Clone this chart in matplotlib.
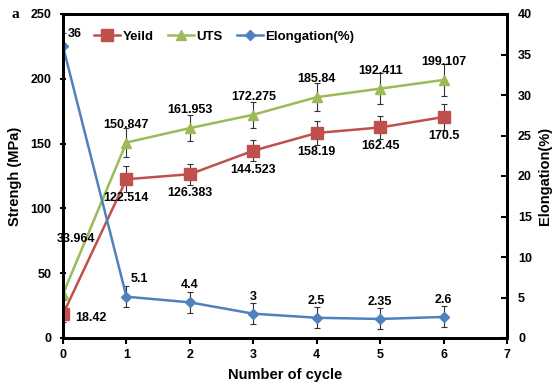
import matplotlib
matplotlib.use("Agg")
import matplotlib.pyplot as plt
from matplotlib.lines import Line2D

plt.rcParams['font.family'] = ['Liberation Sans', 'DejaVu Sans']
plt.rcParams['font.weight'] = 'bold'

cycles = [0, 1, 2, 3, 4, 5, 6]
yield_strength = [18.42, 122.514, 126.383, 144.523, 158.19, 162.45, 170.5]
yield_err = [6, 10, 8, 8, 9, 9, 10]
uts = [33.964, 150.847, 161.953, 172.275, 185.84, 192.411, 199.107]
uts_err = [5, 11, 10, 10, 11, 12, 12]
elongation = [36, 5.1, 4.4, 3, 2.5, 2.35, 2.6]
elong_err = [1.6, 1.3, 1.3, 1.3, 1.3, 1.3, 1.3]
yield_labels = ["18.42", "122.514", "126.383", "144.523", "158.19", "162.45", "170.5"]
uts_labels = ["33.964", "150.847", "161.953", "172.275", "185.84", "192.411", "199.107"]
elong_labels = ["36", "5.1", "4.4", "3", "2.5", "2.35", "2.6"]
series_names = ['Yeild', 'UTS', 'Elongation(%)']

RED = '#C0504D'
GREEN = '#9BBB59'
BLUE = '#4F81BD'
ERR = '#333333'

W, H = 553, 385
fig = plt.figure(figsize=(W / 100, H / 100), dpi=100)
L, R, T, B = 63, 507, 14, 338
ax = fig.add_axes([L / W, (H - B) / H, (R - L) / W, (B - T) / H])
ax2 = ax.twinx()

eb_kw = dict(ecolor=ERR, elinewidth=0.8, capsize=2.2, capthick=0.8)
styles = [
    dict(color=RED, marker='s', ms=8, mec=RED),
    dict(color=GREEN, marker='^', ms=7.5, mec=GREEN),
    dict(color=BLUE, marker='D', ms=5.5, mec=BLUE),
]

ax.errorbar(cycles, yield_strength, yerr=yield_err, lw=1.8, **styles[0], **eb_kw)
ax.errorbar(cycles, uts, yerr=uts_err, lw=1.8, **styles[1], **eb_kw)
ax2.errorbar(cycles, elongation, yerr=elong_err, lw=1.8, **styles[2], **eb_kw)

ax.set_xlim(0, 7)
ax.set_ylim(0, 250)
ax2.set_ylim(0, 40)
ax.set_xticks(range(0, 8))
ax.set_yticks(range(0, 251, 50))
ax2.set_yticks(range(0, 41, 5))

for a in (ax, ax2):
    for s in a.spines.values():
        s.set_linewidth(2)
        s.set_color('black')

ax.tick_params(axis='x', direction='out', length=4, width=1.5, labelsize=9, pad=4)
ax.tick_params(axis='y', direction='inout', length=5, width=1.5, labelsize=9, pad=6)
ax2.tick_params(axis='y', direction='in', length=4, width=1.5, labelsize=9, pad=8)
for lab in ax.get_xticklabels() + ax.get_yticklabels() + ax2.get_yticklabels():
    lab.set_fontweight('bold')

ax.set_xlabel('Number of cycle', fontsize=10.5, fontweight='bold', labelpad=5)
ax.set_ylabel('Strengh (MPa)', fontsize=10.5, fontweight='bold', labelpad=6)
fig.text(545 / W, 1 - 176 / H, 'Elongation(%)', rotation=90, fontsize=10.5,
         fontweight='bold', ha='center', va='center')
fig.text(12 / W, 1 - 14 / H, 'a', fontsize=11, fontweight='bold',
         family='Liberation Serif', ha='left', va='center')

lbl_kw = dict(textcoords='offset pixels', fontsize=9, fontweight='bold', va='center')

for i, (x, y) in enumerate(zip(cycles, yield_strength)):
    if i == 0:
        ax.annotate(yield_labels[i], (x, y), xytext=(12, -4), ha='left', **lbl_kw)
    else:
        ax.annotate(yield_labels[i], (x, y), xytext=(0, -19), ha='center', **lbl_kw)

for i, (x, y) in enumerate(zip(cycles, uts)):
    if i == 0:
        ax.annotate(uts_labels[i], (x, y), xytext=(13, 55), ha='center', **lbl_kw)
    else:
        ax.annotate(uts_labels[i], (x, y), xytext=(0, 18), ha='center', **lbl_kw)

for i, (x, y) in enumerate(zip(cycles, elongation)):
    if i == 0:
        ax2.annotate(elong_labels[i], (x, y), xytext=(5, 12), ha='left', **lbl_kw)
    elif i == 1:
        ax2.annotate(elong_labels[i], (x, y), xytext=(4, 18), ha='left', **lbl_kw)
    else:
        ax2.annotate(elong_labels[i], (x, y), xytext=(0, 17), ha='center', **lbl_kw)

handles = [Line2D([], [], lw=1.8, **st) for st in styles]
leg = ax2.legend(handles, series_names, ncol=3,
                 loc='center left', bbox_to_anchor=(94 / W, 1 - 37 / H),
                 bbox_transform=fig.transFigure, frameon=False, fontsize=9.5,
                 handlelength=2.0, handletextpad=0.15, columnspacing=1.1,
                 borderaxespad=0, borderpad=0)
for t in leg.get_texts():
    t.set_fontweight('bold')

fig.savefig('out.png', dpi=100)
